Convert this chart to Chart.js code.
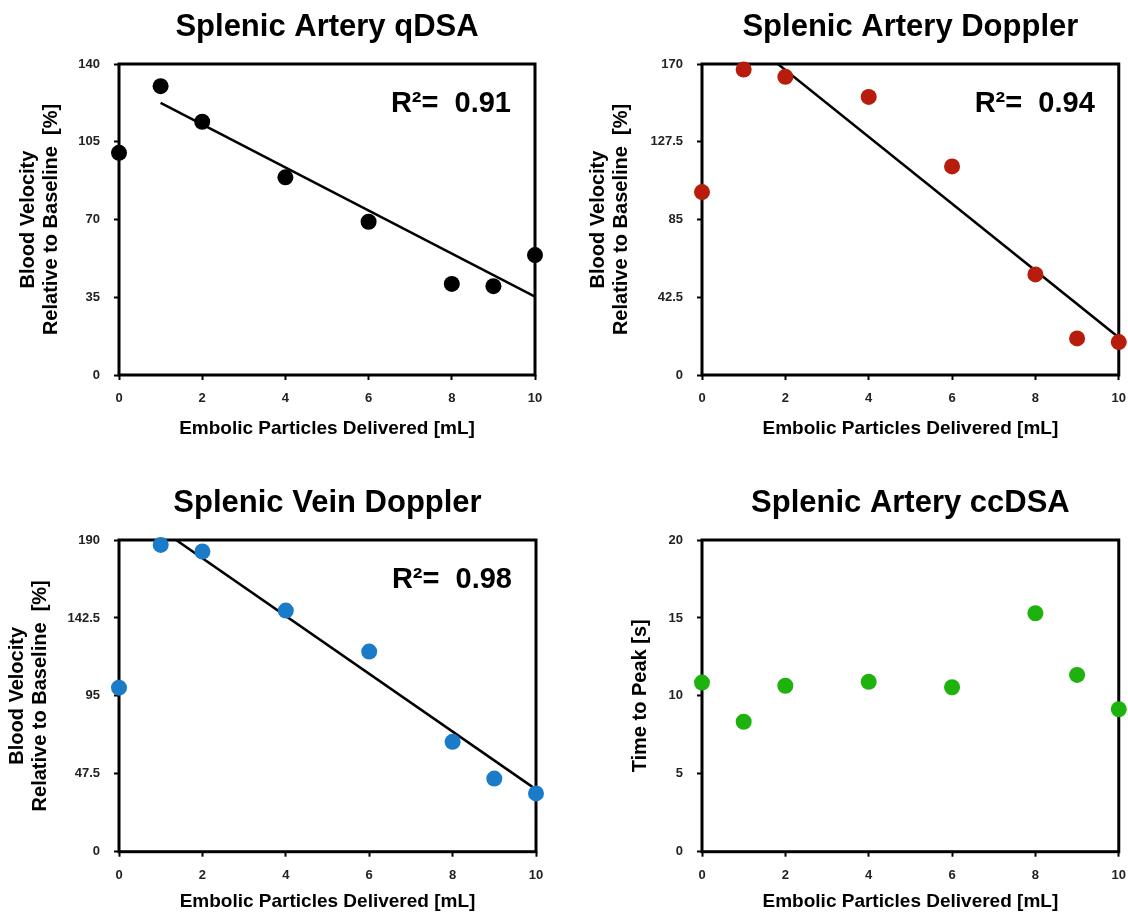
<!DOCTYPE html>
<html>
<head>
<meta charset="utf-8">
<script src="https://cdn.jsdelivr.net/npm/chart.js@4/dist/chart.umd.min.js"></script>
<style>
  html, body { margin: 0; padding: 0; background: #fff; overflow: hidden; }
  .panel { position: absolute; }
</style>
</head>
<body>
<div class="panel" style="left:0;top:0"><canvas id="c1" width="564" height="440"></canvas></div>
<div class="panel" style="left:564px;top:0"><canvas id="c2" width="573" height="440"></canvas></div>
<div class="panel" style="left:0;top:476px"><canvas id="c3" width="564" height="437"></canvas></div>
<div class="panel" style="left:564px;top:476px"><canvas id="c4" width="573" height="437"></canvas></div>
<script>
// data
const doses = [0, 1, 2, 4, 6, 8, 9, 10];
const xTicks = [0, 2, 4, 6, 8, 10];

const qdsaVelocity = [100, 130, 114, 89, 69, 41, 40, 54];
const arteryDopplerVelocity = [100, 167, 163, 152, 114, 55, 20, 18];
const veinDopplerVelocity = [100, 187, 183, 147, 122, 67, 44.6, 35.5];
const ccdsaTimeToPeak = [10.85, 8.34, 10.65, 10.9, 10.55, 15.3, 11.34, 9.14];

// regression lines (end points)
const fitDoses = [1, 10];
const qdsaFit = [122.5, 35.3];
const arteryDopplerFit = [185, 20.5];
const veinDopplerFit = [196.5, 38];

const qdsaTicks = [0, 35, 70, 105, 140];
const arteryTicks = [0, 42.5, 85, 127.5, 170];
const veinTicks = [0, 47.5, 95, 142.5, 190];
const ttpTicks = [0, 5, 10, 15, 20];

const FONT = '"Liberation Sans", Arial, Helvetica, sans-serif';
const velocityTitle = ['Blood Velocity', 'Relative to Baseline  [%]'];

// frame, panel title and R² text
const panelText = {
  id: 'panelText',
  beforeDatasetsDraw(chart) {
    const { ctx, chartArea: a } = chart;
    ctx.save();
    ctx.lineWidth = 3;
    ctx.strokeStyle = '#000';
    ctx.strokeRect(a.left, a.top, a.right - a.left, a.bottom - a.top);
    ctx.restore();
  },
  afterDraw(chart, args, opts) {
    const { ctx, chartArea: a } = chart;
    ctx.save();
    ctx.fillStyle = '#000';
    ctx.font = 'bold 31px ' + FONT;
    ctx.textAlign = 'center';
    ctx.textBaseline = 'alphabetic';
    ctx.fillText(opts.title, (a.left + a.right) / 2, 36);
    if (opts.r2) {
      ctx.font = 'bold 29px ' + FONT;
      ctx.textAlign = 'right';
      ctx.fillText('R\u00B2=  ' + opts.r2, a.right - 24, a.top + 48);
    }
    ctx.restore();
  }
};

function makePanel(id, cfg) {
  const pts = doses.map((d, i) => ({ x: d, y: cfg.values[i] }));
  const datasets = [{
    data: pts,
    backgroundColor: cfg.color,
    borderColor: cfg.color,
    pointRadius: 8,
    pointHoverRadius: 8,
    borderWidth: 0,
    clip: false,
    order: 0
  }];
  if (cfg.fit) {
    datasets.push({
      type: 'line',
      data: fitDoses.map((d, i) => ({ x: d, y: cfg.fit[i] })),
      borderColor: '#000',
      borderWidth: 2.5,
      pointRadius: 0,
      fill: false,
      order: 1
    });
  }
  const canvas = document.getElementById(id);
  const tickFont = { family: FONT, size: 13, weight: 'bold' };
  new Chart(canvas.getContext('2d'), {
    type: 'scatter',
    data: { datasets },
    plugins: [panelText],
    options: {
      responsive: false,
      animation: false,
      layout: { padding: { top: 64, left: cfg.padLeft, right: cfg.padRight, bottom: 0 } },
      plugins: {
        legend: { display: false },
        tooltip: { enabled: false },
        panelText: { title: cfg.title, r2: cfg.r2 }
      },
      scales: {
        x: {
          type: 'linear',
          min: 0, max: 10,
          afterBuildTicks: s => { s.ticks = xTicks.map(v => ({ value: v })); },
          afterFit: s => { s.height = canvas.height - cfg.plotBottom; },
          ticks: { font: tickFont, color: '#222', padding: 11, maxRotation: 0 },
          grid: { drawOnChartArea: false, drawTicks: true, tickLength: 5, tickColor: '#000', tickWidth: 2 },
          border: { display: false },
          title: {
            display: true,
            text: 'Embolic Particles Delivered [mL]',
            font: { family: FONT, size: 19, weight: 'bold', lineHeight: 1.2 },
            color: '#000',
            padding: { top: 0, bottom: 0 }
          }
        },
        y: {
          type: 'linear',
          min: cfg.ticks[0], max: cfg.ticks[cfg.ticks.length - 1],
          afterBuildTicks: s => { s.ticks = cfg.ticks.map(v => ({ value: v })); },
          afterFit: s => { s.width = cfg.plotLeft - cfg.padLeft; },
          ticks: { font: tickFont, color: '#222', padding: 14, callback: v => String(v) },
          grid: { drawOnChartArea: false, drawTicks: true, tickLength: 5, tickColor: '#000', tickWidth: 2 },
          border: { display: false },
          title: {
            display: true,
            text: cfg.yTitle,
            font: { family: FONT, size: 20, weight: 'bold', lineHeight: 1.15 },
            color: '#000',
            padding: { top: cfg.yTitlePad, bottom: 0 }
          }
        }
      }
    }
  });
}

makePanel('c1', {
  title: 'Splenic Artery qDSA', r2: '0.91',
  values: qdsaVelocity, fit: qdsaFit, ticks: qdsaTicks,
  color: '#000000', yTitle: velocityTitle,
  padLeft: 6, yTitlePad: 10.5, plotLeft: 119, padRight: 29, plotBottom: 375
});
makePanel('c2', {
  title: 'Splenic Artery Doppler', r2: '0.94',
  values: arteryDopplerVelocity, fit: arteryDopplerFit, ticks: arteryTicks,
  color: '#b71c0c', yTitle: velocityTitle,
  padLeft: 12, yTitlePad: 10.5, plotLeft: 138, padRight: 0, plotBottom: 375
});
makePanel('c3', {
  title: 'Splenic Vein Doppler', r2: '0.98',
  values: veinDopplerVelocity, fit: veinDopplerFit, ticks: veinTicks,
  color: '#1a7bc8', yTitle: velocityTitle,
  padLeft: 2, yTitlePad: 3.5, plotLeft: 119, padRight: 28, plotBottom: 375.7
});
makePanel('c4', {
  title: 'Splenic Artery ccDSA', r2: null,
  values: ccdsaTimeToPeak, fit: null, ticks: ttpTicks,
  color: '#1db20e', yTitle: 'Time to Peak [s]',
  padLeft: 54, yTitlePad: 10.5, plotLeft: 138, padRight: 0, plotBottom: 375.7
});
</script>
</body>
</html>
